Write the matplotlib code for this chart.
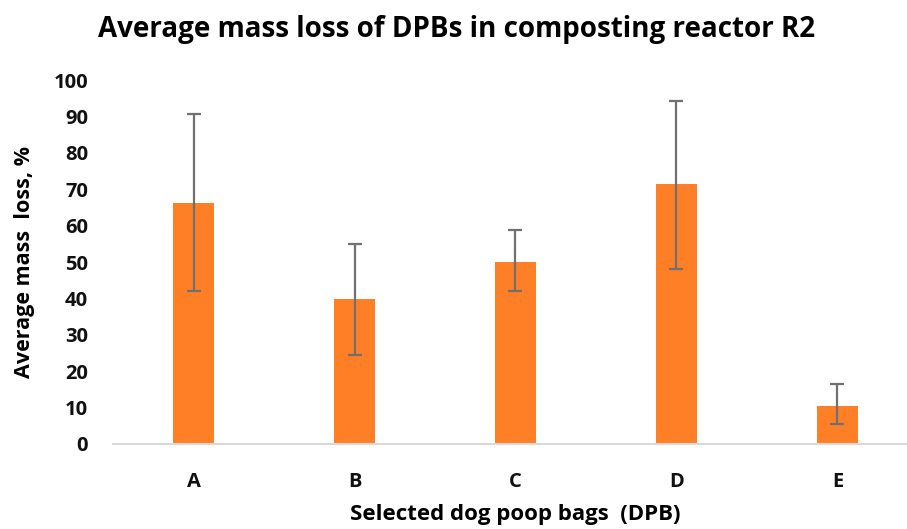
import matplotlib
matplotlib.use('Agg')
import matplotlib.pyplot as plt
import numpy as np

# data
bags = ['A', 'B', 'C', 'D', 'E']
mass_loss = [66.3, 39.8, 49.9, 71.3, 10.5]
err_low = [42.0, 24.5, 42.0, 48.1, 5.4]
err_high = [90.8, 54.9, 58.8, 94.2, 16.6]

plt.rcParams['font.family'] = ['Open Sans', 'DejaVu Sans']

fig = plt.figure(figsize=(9.07, 5.29), dpi=100)
ax = fig.add_axes([0.1246, 0.1607, 0.8875, 0.688])

x = np.arange(len(bags))
vals = np.array(mass_loss)
yerr = [vals - np.array(err_low), np.array(err_high) - vals]

ax.bar(x, vals, width=0.25, color='#FF7F27', zorder=2)
ax.errorbar(x, vals, yerr=yerr, fmt='none', ecolor='#707070', elinewidth=1.6,
            capsize=5, capthick=1.6, zorder=3)

ax.set_xlim(-0.5, 4.5)
ax.set_ylim(0, 100)
ax.set_yticks(np.arange(0, 101, 10))
ax.set_xticks(x)
ax.set_xticklabels(bags)
ax.tick_params(axis='both', length=0, labelsize=14.5, colors='#111111')
ax.tick_params(axis='y', pad=18)
ax.tick_params(axis='x', pad=20)
for lab in ax.get_xticklabels() + ax.get_yticklabels():
    lab.set_fontweight('bold')

for s in ['top', 'right', 'left']:
    ax.spines[s].set_visible(False)
ax.spines['bottom'].set_color('#d9d9d9')
ax.spines['bottom'].set_linewidth(1.5)

ax.set_ylabel('Average mass  loss, %', fontsize=15.5, fontweight='bold')
ax.yaxis.set_label_coords(-0.097, 0.5)
ax.set_xlabel('Selected dog poop bags  (DPB)', fontsize=16, fontweight='bold', labelpad=9)
fig.text(0.503, 0.945, 'Average mass loss of DPBs in composting reactor R2',
         ha='center', va='center', fontsize=20, fontweight='bold')

fig.savefig('out.png', dpi=100)
